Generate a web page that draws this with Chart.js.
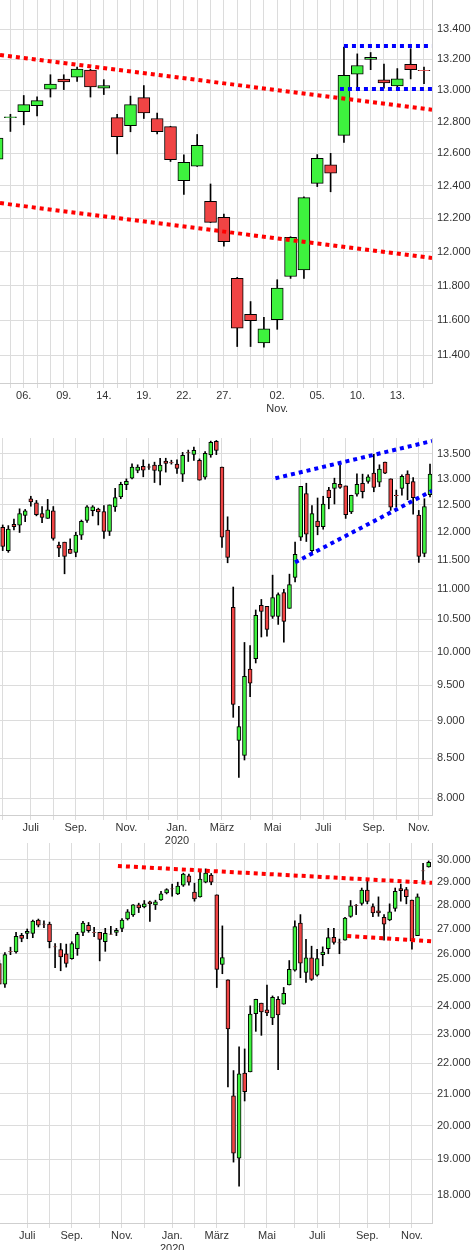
<!DOCTYPE html>
<html>
<head>
<meta charset="utf-8">
<script src="https://cdn.jsdelivr.net/npm/chart.js@4/dist/chart.umd.min.js"></script>
<style>
  body { margin: 0; background: #fff; }
  .box { position: absolute; left: 0; width: 475px; }
</style>
</head>
<body>
<div class="box" style="top:0;height:420px"><canvas id="c1"></canvas></div>
<div class="box" style="top:438px;height:410px"><canvas id="c2"></canvas></div>
<div class="box" style="top:843px;height:407px"><canvas id="c3"></canvas></div>
<script>
/* ---------- chart 1: daily, Oct 2 - Nov 17 ---------- */
const c1Open  = [12563,12825,12863,12901,13006,13072,13085,13130,13013,12825,12773,12952,12819,12768,12431,12520,12304,12206,11843,11634,11470,11604,11854,11893,12414,12528,12712,13104,13200,13067,13027,13167,13128];
const c1High  = [12720,12846,12966,12958,13100,13100,13150,13135,13068,12846,12962,13030,12853,12770,12590,12718,12410,12226,11849,11708,11617,11835,12090,12332,12592,12600,13280,13236,13245,13169,13140,13270,13149];
const c1Low   = [12540,12737,12779,12836,12956,13004,13057,12956,12972,12596,12735,12819,12721,12549,12346,12518,12175,12034,11450,11450,11446,11548,11843,11843,12394,12362,12668,13013,13133,13013,13013,13073,13042];
const c1Close = [12696,12830,12907,12933,13040,13053,13136,13021,13030,12704,12907,12855,12735,12561,12544,12650,12176,12061,11555,11598,11551,11787,12087,12326,12568,12477,13096,13160,13213,13047,13073,13133,13126];
const c1Ticks = {2:'06.',5:'09.',8:'14.',11:'19.',14:'22.',17:'27.',21:['02.','Nov.'],24:'05.',27:'10.',30:'13.'};
const c1Upper = [[0.22,13229],[32.6,12875]];
const c1Lower = [[0.22,12293],[32.6,11963]];
const c1BlueTop = [[26.0,13288],[32.6,13288]];
const c1BlueBot = [[25.7,13008],[32.6,13008]];

/* ---------- chart 2: weekly, Jun 2019 - Nov 2020 ---------- */
const c2Open  = [12078,11657,12132,12114,12295,12613,12533,12331,12241,12385,11753,11807,11681,11626,11934,12205,12385,12415,12367,12000,12458,12647,12887,13013,13167,13247,13240,13273,13153,13353,13327,13293,13093,13527,13493,13373,13033,13480,13760,13233,12024,10692,8735,8539,9736,9890,10726,10710,10548,10548,10936,10678,11190,11898,12713,11657,12193,12090,12780,12813,12893,12860,12361,12700,12913,12947,13113,12933,13333,13000,12677,12813,13093,12947,12301,11608,12693];
const c2High  = [12120,12108,12229,12421,12409,12660,12580,12464,12600,12464,11807,11807,11867,11988,12211,12482,12482,12433,12482,12494,12813,12933,13000,13300,13280,13380,13293,13333,13413,13413,13373,13380,13533,13580,13640,13400,13547,13767,13780,13233,12271,11029,9202,10138,10090,10651,10823,10710,11230,10931,10990,11247,11807,12853,12913,12482,12627,12660,12833,13013,13280,12860,12680,13100,13093,13080,13493,13280,13333,13000,12780,13080,13160,13027,12391,12613,13293];
const c2Low   = [11657,11626,12030,11982,12181,12470,12289,12163,12241,11843,11548,11253,11608,11548,11855,12169,12289,12120,11873,11927,12373,12613,12787,13000,13120,13040,13187,12927,12880,13133,13293,13107,12947,13347,13367,12973,12993,13433,13487,11711,11443,9048,8259,8480,9337,9827,10223,10234,10516,10420,10144,10678,11115,11837,11819,11602,11940,12042,12421,12512,12813,12241,12331,12660,12627,12913,12747,12847,13100,12391,12452,12680,12593,12319,11449,11548,12647];
const c2Close = [11729,12042,12090,12331,12385,12553,12313,12259,12403,11873,11699,11554,11608,11934,12187,12458,12458,12361,12000,12494,12633,12893,12953,13233,13233,13173,13233,13167,13273,13307,13320,13207,13473,13520,13573,12973,13513,13740,13573,11898,11536,9226,8922,9630,9529,10565,10629,10340,10855,10904,10468,11069,11590,12853,11952,12331,12090,12512,12633,12913,12833,12313,12680,12893,12747,13040,12833,13193,13113,12452,12670,13047,12907,12633,11554,12464,13093];
const c2BlueTop = [[48.5,13011],[76.35,13769]];
const c2BlueBot = [[52,11450],[76.35,12765]];

/* ---------- chart 3: weekly, Jun 2019 - Nov 2020 ---------- */
const c3Open  = [25615,24815,26096,26068,26740,26822,26822,27372,27200,27200,26274,26164,26000,25808,26205,26863,27157,26851,26863,26480,26795,26863,27029,27414,27586,28014,27929,28143,28014,28229,28529,28705,28486,28871,29284,28571,28357,29000,29314,28443,25577,24988,20926,19030,21667,21710,23726,24110,23869,23571,24256,24073,24790,25359,27243,25269,25833,25167,25962,26205,26658,26440,26548,27529,27990,28071,28657,27943,27757,27486,27372,27857,28714,28671,28214,26726,29510,29687];
const c3High  = [25750,26041,26260,26863,26822,27000,27372,27414,27343,27286,26411,26411,26384,26480,26863,27314,27271,27071,26863,27029,27114,27029,27429,27814,28029,28086,28200,28171,28214,28600,28714,28914,29000,29403,29358,28957,29478,29597,29388,28443,27129,24988,21753,22552,22483,24012,24256,24110,24781,24378,24354,24695,25731,27343,27600,26575,26301,26178,26274,27029,27029,26589,27486,28200,28029,28743,29149,28057,28357,27600,28057,28743,28914,28771,28214,28486,29851,29955];
const c3Low   = [24815,24692,25962,26027,26480,26603,26644,27086,27057,26233,25449,25333,25474,25782,25936,26726,26863,26685,25718,26096,26781,26726,26890,27372,27529,27686,27886,27314,27814,28200,28486,28386,28457,28814,28871,28171,28343,28971,28886,24692,25218,21215,18916,18234,20766,21710,23095,22954,23655,23333,21781,24073,24790,25321,25064,24889,24963,25128,25526,26000,26384,26000,26548,27486,27600,28000,28057,27514,27529,26548,27343,27743,28171,28057,26178,26726,29060,29672];
const c3Close = [24815,25962,26090,26699,26616,26904,27329,27157,27195,26480,26268,25872,25615,26411,26781,27243,26932,26845,26575,26822,26790,26945,27372,27714,28014,27886,28057,28057,28143,28486,28671,28700,28829,29358,29000,28271,29134,29403,29000,25385,25846,23179,19178,21645,21065,23714,24256,23786,23750,24329,23678,24476,25385,27100,25628,25833,25000,25808,26068,26644,26452,26435,27457,27971,27985,28657,28157,27671,27671,27200,27714,28600,28629,28371,26507,28357,29505,29896];
const c3RedTop = [[21.27,29727],[77.6,28970]];
const c3RedBot = [[62.4,26717],[77.6,26494]];

/* ---------- shared month ticks for the weekly charts ---------- */
const monthGrid = [0,5,9,13,18,22,26,31,35,39,44,48,53,57,61,66,70,74];
const monthTicks = {5:'Juli',13:'Sep.',22:'Nov.',31:['Jan.','2020'],39:'März',48:'Mai',57:'Juli',66:'Sep.',74:'Nov.'};

const GREEN = '#3ef23e', RED = '#f04444';

function fmt(v) {
    return Math.floor(v / 1000) + '.' + String(Math.round(v % 1000)).padStart(3, '0');
}

function range(a, b, step) {
    const out = [];
    for (let v = a; v <= b + 0.001; v += step) out.push(v);
    return out;
}

function trend(points, color) {
    return {
        type: 'line',
        data: points.map(p => ({ x: p[0], y: p[1] })),
        borderColor: color,
        borderWidth: 4,
        borderDash: [4, 4],
        borderCapStyle: 'butt',
        pointRadius: 0,
        fill: false,
        order: 0
    };
}

function noPad(s) {
    s.paddingTop = 0; s.paddingBottom = 0;
    s.paddingLeft = 0; s.paddingRight = 0;
}

function candleChart(id, o, h, l, c, cfg) {
    const idx = o.map((_, i) => i);
    new Chart(document.getElementById(id), {
        type: 'bar',
        data: {
            datasets: [
                {
                    data: idx.map(i => ({ x: i, y: [l[i], h[i]] })),
                    backgroundColor: '#000',
                    barThickness: 1,
                    order: 2
                },
                {
                    data: idx.map(i => ({ x: i, y: [o[i], c[i]] })),
                    backgroundColor: idx.map(i => c[i] >= o[i] ? GREEN : RED),
                    borderColor: '#000',
                    borderWidth: 1,
                    borderSkipped: false,
                    barThickness: cfg.bodyWidth,
                    order: 1
                },
                ...cfg.lines
            ]
        },
        options: {
            responsive: true,
            maintainAspectRatio: false,
            animation: false,
            grouped: false,
            layout: { padding: 0 },
            plugins: { legend: { display: false }, tooltip: { enabled: false } },
            scales: {
                x: {
                    type: 'linear',
                    offset: false,
                    min: cfg.xMin,
                    max: cfg.xMax,
                    afterBuildTicks: s => { s.ticks = cfg.xGrid.map(v => ({ value: v })); },
                    afterFit: s => { s.height = cfg.xHeight; noPad(s); },
                    grid: { color: '#dcdcdc', tickLength: 5, offset: false },
                    border: { color: '#cfcfcf' },
                    ticks: {
                        autoSkip: false,
                        maxRotation: 0,
                        padding: 1,
                        color: '#333',
                        font: { family: 'Liberation Sans', size: 11 },
                        callback: v => cfg.xLabels[v] || ''
                    }
                },
                y: {
                    type: 'logarithmic',
                    position: 'right',
                    min: cfg.yMin,
                    max: cfg.yMax,
                    afterBuildTicks: s => { s.ticks = cfg.yTicks.map(v => ({ value: v })); },
                    afterFit: s => { s.width = 43; noPad(s); },
                    grid: { color: '#dcdcdc', drawTicks: false },
                    border: { color: '#cfcfcf' },
                    ticks: {
                        padding: 5,
                        color: '#333',
                        font: { family: 'Liberation Sans', size: 11 },
                        callback: v => fmt(v)
                    }
                }
            }
        }
    });
}

candleChart('c1', c1Open, c1High, c1Low, c1Close, {
    bodyWidth: 12,
    xMin: 0.22, xMax: 32.6, xHeight: 37,
    xGrid: range(1, 32, 1), xLabels: c1Ticks,
    yMin: 11245, yMax: 13594, yTicks: range(11400, 13400, 200),
    lines: [trend(c1Upper, '#ff0000'), trend(c1Lower, '#ff0000'),
            trend(c1BlueTop, '#0000ff'), trend(c1BlueBot, '#0000ff')]
});

candleChart('c2', c2Open, c2High, c2Low, c2Close, {
    bodyWidth: 4,
    xMin: -0.48, xMax: 76.35, xHeight: 33,
    xGrid: monthGrid, xLabels: monthTicks,
    yMin: 7800, yMax: 13832, yTicks: range(8000, 13500, 500),
    lines: [trend(c2BlueTop, '#0000ff'), trend(c2BlueBot, '#0000ff')]
});

candleChart('c3', c3Open, c3High, c3Low, c3Close, {
    bodyWidth: 4,
    xMin: 0.12, xMax: 77.6, xHeight: 27,
    xGrid: monthGrid, xLabels: monthTicks,
    yMin: 17237, yMax: 30788, yTicks: range(18000, 30000, 1000),
    lines: [trend(c3RedTop, '#ff0000'), trend(c3RedBot, '#ff0000')]
});
</script>
</body>
</html>
